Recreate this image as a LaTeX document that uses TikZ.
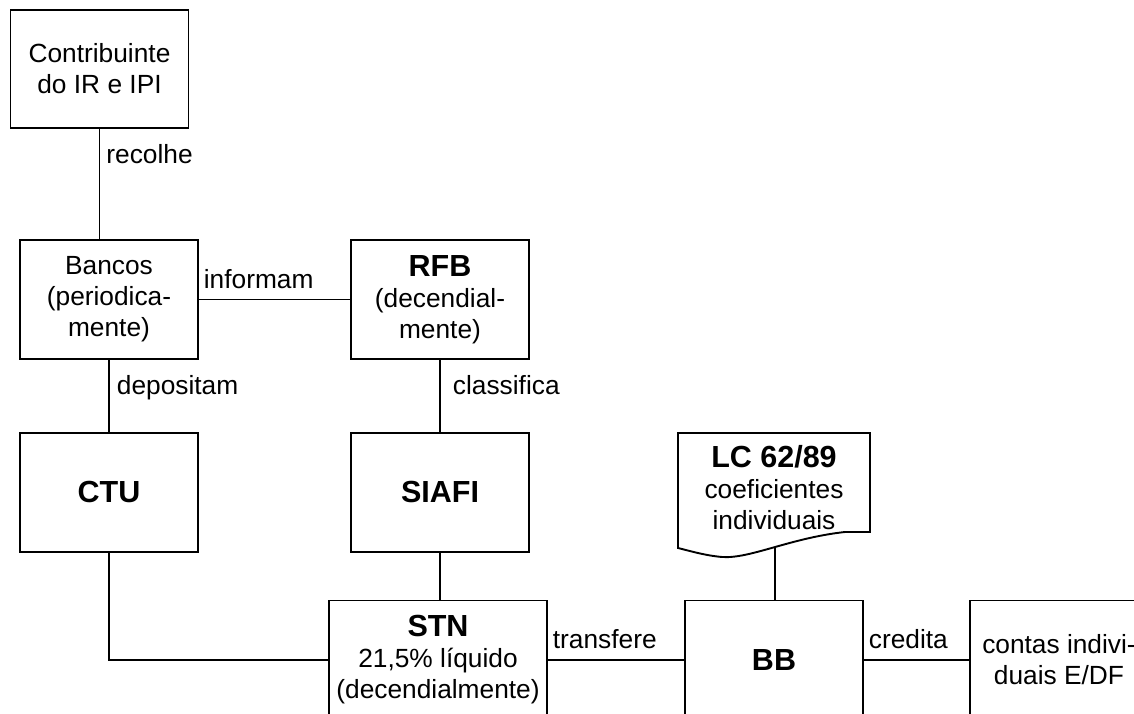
\documentclass[tikz,border=0pt]{standalone}
\usepackage{fontspec}
\setmainfont{Liberation Sans}
\usetikzlibrary{positioning}
\def\txt{\fontsize{26.3}{31}\selectfont}
\def\bigword#1{{\fontsize{30.5}{33}\selectfont\bfseries #1}}

\begin{document}
\begin{tikzpicture}[x=1pt,y=1pt,line width=1.9pt,font=\txt,node distance=193pt,
		box/.style={draw,inner sep=0pt,align=center,minimum width=178pt,minimum height=119pt},
		vlabel/.style={pos=0,anchor=north west,inner sep=0pt,xshift=7pt,yshift=-14.5pt},
		hlabel/.style={pos=0,anchor=south west,inner sep=0pt,xshift=4pt,yshift=10pt}]
		\useasboundingbox (0,0) rectangle (1134,714);
		\clip (0,0) rectangle (1134,714);
		
		\node[box,minimum height=118pt] (contrib) at (99.5,645) {Contribuinte\\do IR e IPI};
		\node[box] (bancos) at (109,414.5) {Bancos\\(periodica-\\mente)};
		\node[box] (rfb)    at (440,414.5) {\bigword{RFB}\\(decendial-\\mente)};
		\node[box] (ctu)    [below of=bancos] {\bigword{CTU}};
		\node[box] (siafi)  [below of=rfb]    {\bigword{SIAFI}};
		\node[box,minimum width=218pt] (stn) at (438,54) {\bigword{STN}\\21,5\% líquido\\(decendialmente)};
		\node[box] (bb)     at (774,54)  {\bigword{BB}};
		\node[box] (contas) at (1059,54) {contas indivi-\\duais E/DF};
		
		% documento da LC
		\node[align=center,inner sep=0pt] (lc) at (774,226) {\bigword{LC 62/89}\\coeficientes\\individuais};
		\draw (678,281) -- (870,281) -- (870,182) -- (845,182)
			.. controls (790,176) and (750,155) .. (722,157)
			.. controls (705,158.5) and (690,163) .. (678,166) -- cycle;
		\coordinate (lcbot) at (775,167);
		
		\draw (contrib.south) -- node[vlabel,xshift=-1pt] {recolhe} (contrib.south |- bancos.north);
		\draw (bancos.east) -- node[hlabel] {informam} (rfb.west);
		\draw (bancos.south) -- node[vlabel] {depositam} (bancos.south |- ctu.north);
		\draw (rfb.south) -- node[vlabel,xshift=5pt] {classifica} (rfb.south |- siafi.north);
		\draw (siafi.south) -- (siafi.south |- stn.north);
		\draw (ctu.south) |- (stn.west);
		\draw (stn.east) -- node[hlabel] {transfere} (bb.west);
		\draw (bb.east) -- node[hlabel] {credita} (contas.west);
		\draw (lcbot) -- (lcbot |- bb.north);
\end{tikzpicture}
\end{document}
